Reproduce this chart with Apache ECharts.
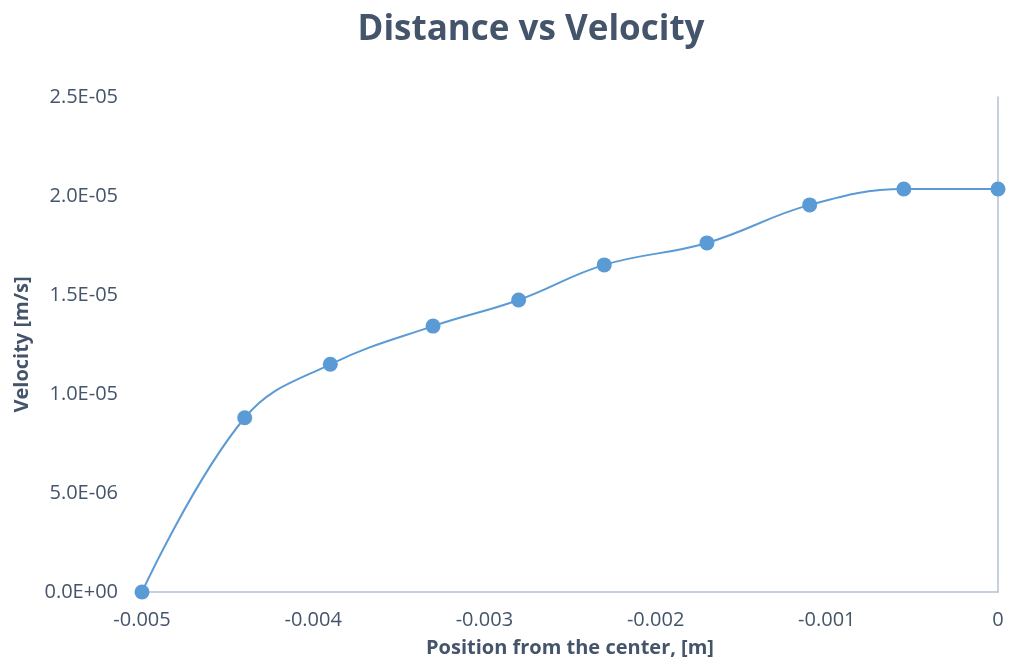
<!DOCTYPE html>
<html>
<head>
<meta charset="utf-8">
<style>
  html, body { margin: 0; padding: 0; background: #fff; }
  #chart { width: 1010px; height: 666px; }
</style>
<script src="https://cdn.jsdelivr.net/npm/echarts@6/dist/echarts.min.js"></script>
</head>
<body>
<div id="chart"></div>
<script>
// Measured positions (m) and velocities (m/s)
const positions = [-0.005, -0.0044, -0.0039, -0.0033, -0.0028, -0.0023, -0.0017, -0.0011, -0.00055, 0];
const velocities = [0, 8.8e-6, 1.15e-5, 1.343e-5, 1.475e-5, 1.652e-5, 1.763e-5, 1.955e-5, 2.035e-5, 2.035e-5];
const xTicks = { min: -0.005, max: 0, step: 0.001 };
const yTicks = { min: 0, max: 2.5e-5, step: 5e-6 };

const textColor = '#44546A';
const axisColor = '#B4C0D3';
const font = '"Open Sans", "Noto Sans", sans-serif';

function sci(v) {
  const s = Number(v).toExponential(1).toUpperCase();
  return s.replace(/E([+-])(\d)$/, 'E$10$2');
}
function pos(v) {
  if (Math.abs(v) < 1e-12) return '0';
  return Number(v).toFixed(3);
}

const chart = echarts.init(document.getElementById('chart'));
chart.setOption({
  animation: false,
  backgroundColor: '#ffffff',
  textStyle: { fontFamily: font },
  title: {
    text: 'Distance vs Velocity',
    left: 526,
    textAlign: 'center',
    top: 8,
    textStyle: { fontFamily: font, fontSize: 35, fontWeight: 'bold', color: textColor }
  },
  grid: { left: 142, right: 12, top: 97, bottom: 74 },
  xAxis: {
    type: 'value',
    min: xTicks.min, max: xTicks.max, interval: xTicks.step,
    name: 'Position from the center, [m]',
    nameLocation: 'middle',
    nameGap: 46,
    nameTextStyle: { fontFamily: font, fontSize: 20, fontWeight: 'bold', color: textColor },
    axisLine: { show: true, onZero: false, lineStyle: { color: axisColor, width: 1.5 } },
    axisTick: { show: false },
    splitLine: { show: false },
    axisLabel: { formatter: pos, margin: 18, fontFamily: font, fontSize: 20, color: textColor }
  },
  yAxis: [{
    type: 'value',
    min: yTicks.min, max: yTicks.max, interval: yTicks.step,
    position: 'left',
    name: 'Velocity [m/s]',
    nameLocation: 'middle',
    nameGap: 110,
    nameRotate: 90,
    nameTextStyle: { fontFamily: font, fontSize: 20, fontWeight: 'bold', color: textColor },
    axisLine: { show: false, onZero: false },
    axisTick: { show: false },
    splitLine: { show: false },
    axisLabel: { formatter: sci, margin: 24, fontFamily: font, fontSize: 20, color: textColor }
  }, {
    type: 'value',
    min: yTicks.min, max: yTicks.max, interval: yTicks.step,
    position: 'right',
    axisLine: { show: true, onZero: false, lineStyle: { color: axisColor, width: 1.5 } },
    axisTick: { show: false },
    axisLabel: { show: false },
    splitLine: { show: false }
  }],
  series: [{
    type: 'line',
    yAxisIndex: 0,
    data: positions.map((x, i) => [x, velocities[i]]),
    smooth: 0.4,
    symbol: 'circle',
    symbolSize: 15,
    lineStyle: { color: '#5B9BD5', width: 2 },
    itemStyle: { color: '#5B9BD5' },
    clip: false
  }]
});
</script>
</body>
</html>
